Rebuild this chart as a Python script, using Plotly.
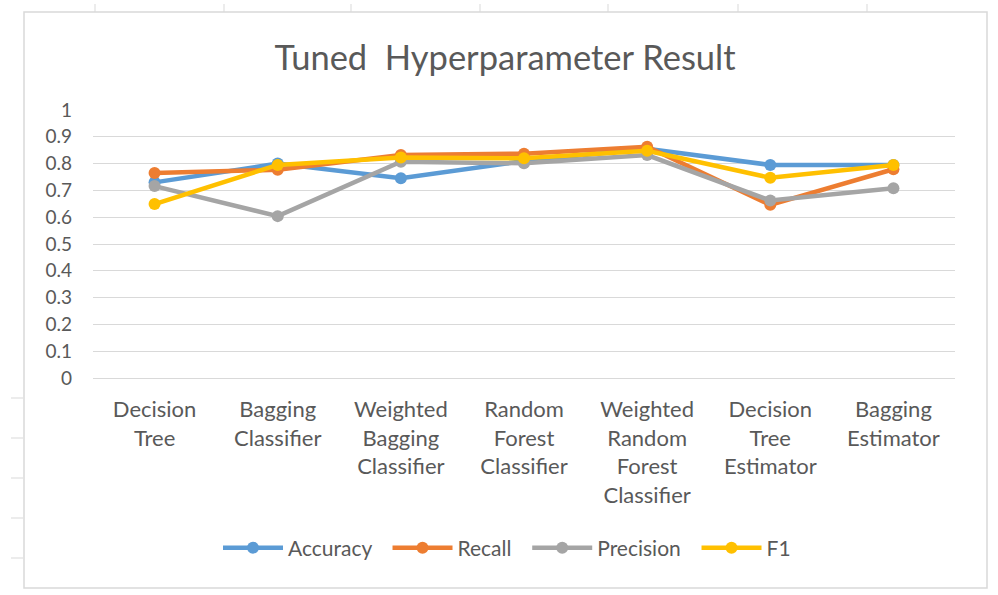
import plotly.graph_objects as go

categories = ["Decision<br>Tree", "Bagging<br>Classifier", "Weighted<br>Bagging<br>Classifier",
              "Random<br>Forest<br>Classifier", "Weighted<br>Random<br>Forest<br>Classifier",
              "Decision<br>Tree<br>Estimator", "Bagging<br>Estimator"]
accuracy = [0.73, 0.80, 0.745, 0.81, 0.855, 0.795, 0.795]
recall = [0.765, 0.777, 0.832, 0.837, 0.863, 0.646, 0.779]
precision = [0.716, 0.604, 0.807, 0.801, 0.832, 0.662, 0.708]
f1 = [0.649, 0.795, 0.823, 0.82, 0.848, 0.747, 0.795]
series_names = ["Accuracy", "Recall", "Precision", "F1"]
y_ticks = [0, 0.1, 0.2, 0.3, 0.4, 0.5, 0.6, 0.7, 0.8, 0.9, 1]
y_tick_text = ["0", "0.1", "0.2", "0.3", "0.4", "0.5", "0.6", "0.7", "0.8", "0.9", "1"]

colors = ["#5B9BD5", "#ED7D31", "#A5A5A5", "#FFC000"]
values = [accuracy, recall, precision, f1]

FONT = "Lato, Roboto, sans-serif"
TXT = "#595959"

fig = go.Figure()
for i, (name, vals, col) in enumerate(zip(series_names, values, colors)):
    label = name if i == len(series_names) - 1 else name + "\u00a0\u00a0"
    fig.add_trace(go.Scatter(x=categories, y=vals, name=label, mode="lines+markers",
                             line=dict(color=col, width=4.5), marker=dict(color=col, size=12)))

L, R, T, B = 93, 955, 110, 378
W, H = 998, 595
pw, ph = R - L, B - T

def px(x):
    return (x - L) / pw

def py(y):
    return (B - y) / ph

shapes = [dict(type="rect", xref="paper", yref="paper", x0=px(24), x1=px(987), y0=py(588), y1=py(12),
               line=dict(color="#D9D9D9", width=1.5), layer="below")]
for x in [95, 224, 351, 480, 608, 738, 867]:
    shapes.append(dict(type="line", xref="paper", yref="paper", x0=px(x), x1=px(x), y0=py(12), y1=py(4),
                       line=dict(color="#D9D9D9", width=1)))
for y in [398, 438, 478, 518, 558]:
    shapes.append(dict(type="line", xref="paper", yref="paper", x0=px(11), x1=px(23), y0=py(y), y1=py(y),
                       line=dict(color="#D9D9D9", width=1)))

fig.update_layout(
    width=W, height=H,
    margin=dict(l=L, r=W - R, t=T, b=H - B),
    paper_bgcolor="white", plot_bgcolor="white",
    font=dict(family=FONT, color=TXT, size=20),
    title=dict(text="Tuned  Hyperparameter Result", x=px(505), xref="paper", xanchor="center",
               y=1 - 58 / H, yref="container", yanchor="middle",
               font=dict(size=34.5, color=TXT, family=FONT)),
    xaxis=dict(range=[-0.5, 6.5], showgrid=False, showline=False, ticks="",
               tickfont=dict(size=22, color=TXT), ticklabelstandoff=16, fixedrange=True),
    yaxis=dict(range=[0, 1], tickvals=y_ticks, ticktext=y_tick_text, showgrid=True,
               gridcolor="#D9D9D9", gridwidth=1.3, zeroline=True, zerolinecolor="#D9D9D9",
               zerolinewidth=1.3, showline=False, ticks="", tickfont=dict(size=19, color=TXT),
               ticklabelstandoff=20, fixedrange=True),
    legend=dict(orientation="h", x=px(507), xanchor="center", y=py(548), yanchor="middle",
                font=dict(size=21, color=TXT), tracegroupgap=0, itemwidth=60),
    shapes=shapes,
    showlegend=True,
)

fig.write_html("out.html", post_script="document.body.style.margin='0';",
               config={"displayModeBar": False})
